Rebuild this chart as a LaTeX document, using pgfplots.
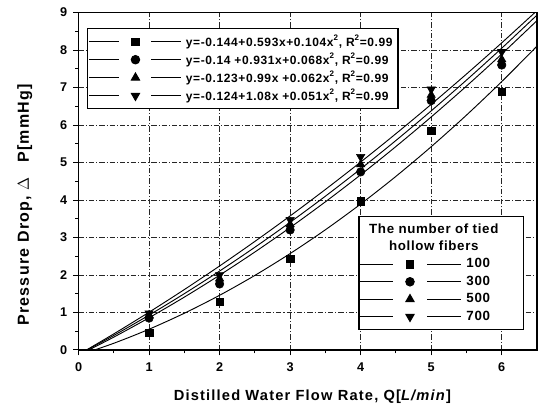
\documentclass[border=0pt]{standalone}
\usepackage{pgfplots}
\usepackage{pgfplotstable}
\pgfplotsset{compat=1.18}
\usepackage{fontspec}
\setmainfont{Liberation Sans}
\newfontfamily\lsfont{Liberation Sans}[LetterSpace=8]
\newfontfamily\lgfont{Liberation Sans}[LetterSpace=5]

\pgfplotstableread{
x sq ci tr dt
1 0.46 0.85 0.93 0.98
2 1.29 1.76 1.90 2.00
3 2.43 3.20 3.35 3.47
4 3.97 4.75 4.95 5.15
5 5.84 6.65 6.80 6.95
6 6.88 7.60 7.75 7.95
}\datapts

\pgfplotstableread{
x f1 f2 f3 f4
0 -0.144 -0.140 -0.123 -0.124
0.5 0.1785 0.3425 0.3875 0.4288
1 0.553 0.859 0.929 1.007
1.5 0.9795 1.4095 1.5015 1.6108
2 1.458 1.994 2.105 2.240
2.5 1.9885 2.6125 2.7395 2.8948
3 2.571 3.265 3.405 3.575
3.5 3.2055 3.9515 4.1015 4.2808
4 3.892 4.672 4.829 5.012
4.5 4.6305 5.4265 5.5875 5.7688
5 5.421 6.215 6.377 6.551
5.5 6.2635 7.0375 7.1975 7.3588
6 7.158 7.894 8.049 8.192
6.5 8.1045 8.7845 8.9315 9.0508
}\fits

\pgfplotsset{
  sqm/.style={black, mark=square*, mark size=2.8pt, mark options={solid, fill=black}},
  cim/.style={black, mark=*, mark size=3.2pt, mark options={solid, fill=black}},
  trm/.style={black, mark=triangle*, mark size=3.6pt, mark options={solid, fill=black}},
  dtm/.style={black, mark=triangle*, mark size=3.6pt, mark options={solid, fill=black, rotate=180}},
}

\begin{document}
\begin{tikzpicture}
\path[use as bounding box] (-58.9pt,-45pt) rectangle (346.9pt,262.5pt);
\begin{axis}[
  at={(0,0)}, anchor=south west,
  scale only axis, width=343.9pt, height=253.1pt,
  xmin=0, xmax=6.5, ymin=0, ymax=9,
  xtick={0,1,2,3,4,5,6}, ytick={0,1,2,3,4,5,6,7,8,9},
  minor x tick num=1, minor y tick num=1,
  tick pos=left, tick align=outside,
  major tick length=4pt, minor tick length=2.5pt,
  every tick/.style={black, line width=0.7pt},
  axis line style={line width=1pt},
  grid=major,
  major grid style={black!85, line width=0.5pt, dash pattern=on 4pt off 1.5pt on 0.8pt off 1.5pt},
  tick label style={font=\bfseries\fontsize{9.5}{11}\selectfont},
  /pgf/number format/assume math mode=true,
  xticklabel style={yshift=-2pt},
  yticklabel style={xshift=-1pt},
  xlabel={\lsfont\bfseries Distilled Water Flow Rate, Q[\textit{L/min}]},
  ylabel={\lsfont\bfseries Pressure Drop, $\Delta$\hspace{0.9em}P[mmHg]},
  every axis x label/.style={at={(axis description cs:0.51,-0.139)}, anchor=center, font=\fontsize{11}{13}\selectfont},
  every axis y label/.style={at={(axis description cs:-0.117,0.43)}, anchor=center, rotate=90, font=\fontsize{12}{14}\selectfont},
  legend image code/.code={
    \draw[#1, mark=none] (0pt,0pt) -- (22.5pt,0pt);
    \draw[#1, mark=none] (46.5pt,0pt) -- (69pt,0pt);
    \draw[#1] plot coordinates {(34.5pt,0pt)};
  },
  legend style={at={(0.0185,0.954)}, anchor=north west, draw=black, line width=1pt,
    inner xsep=1pt, inner ysep=3pt, row sep=0pt,
    font=\lgfont\bfseries\fontsize{9}{11}\selectfont,
    nodes={text height=9.5pt, text depth=3pt, inner ysep=0.5pt, inner xsep=3pt},
    cells={anchor=west}},
  legend cell align=left,
]
\addplot[black, line width=0.7pt, smooth, forget plot] table[x=x,y=f1]{\fits};
\addplot[black, line width=0.7pt, smooth, forget plot] table[x=x,y=f2]{\fits};
\addplot[black, line width=0.7pt, smooth, forget plot] table[x=x,y=f3]{\fits};
\addplot[black, line width=0.7pt, smooth, forget plot] table[x=x,y=f4]{\fits};
\addplot[sqm, only marks, forget plot] table[x=x,y=sq]{\datapts};
\addplot[cim, only marks, forget plot] table[x=x,y=ci]{\datapts};
\addplot[trm, only marks, forget plot] table[x=x,y=tr]{\datapts};
\addplot[dtm, only marks, forget plot] table[x=x,y=dt]{\datapts};
\addlegendimage{sqm, line width=0.7pt}
\addlegendentry{y=-0.144+0.593x+0.104x\textsuperscript{2}, R\textsuperscript{2}=0.99}
\addlegendimage{cim, line width=0.7pt}
\addlegendentry{y=-0.14 +0.931x+0.068x\textsuperscript{2}, R\textsuperscript{2}=0.99}
\addlegendimage{trm, line width=0.7pt}
\addlegendentry{y=-0.123+0.99x +0.062x\textsuperscript{2}, R\textsuperscript{2}=0.99}
\addlegendimage{dtm, line width=0.7pt}
\addlegendentry{y=-0.124+1.08x +0.051x\textsuperscript{2}, R\textsuperscript{2}=0.99}
\end{axis}
\begin{axis}[
  at={(0,0)}, anchor=south west,
  scale only axis, width=343.9pt, height=253.1pt,
  xmin=0, xmax=6.5, ymin=0, ymax=9, hide axis,
  legend image code/.code={
    \draw[#1, mark=none] (0pt,0pt) -- (25pt,0pt);
    \draw[#1, mark=none] (51pt,0pt) -- (76pt,0pt);
    \draw[#1] plot coordinates {(38pt,0pt)};
  },
  legend style={at={(0.61,0.397)}, anchor=north west, draw=black, line width=1pt,
    inner xsep=0pt, inner ysep=3pt, row sep=0pt,
    font=\lgfont\bfseries\fontsize{10}{12}\selectfont,
    nodes={text height=9pt, text depth=3.5pt, inner ysep=0.3pt, inner xsep=4pt},
    cells={anchor=west}},
  legend cell align=left,
]
\addlegendimage{empty legend}
\addlegendentry{\hspace*{-88pt}\makebox[127pt][c]{The number of tied}}
\addlegendimage{empty legend}
\addlegendentry{\hspace*{-88pt}\makebox[127pt][c]{hollow fibers}}
\addlegendimage{sqm, line width=0.7pt}
\addlegendentry{100}
\addlegendimage{cim, line width=0.7pt}
\addlegendentry{300}
\addlegendimage{trm, line width=0.7pt}
\addlegendentry{500}
\addlegendimage{dtm, line width=0.7pt}
\addlegendentry{700}
\end{axis}
\end{tikzpicture}
\end{document}
